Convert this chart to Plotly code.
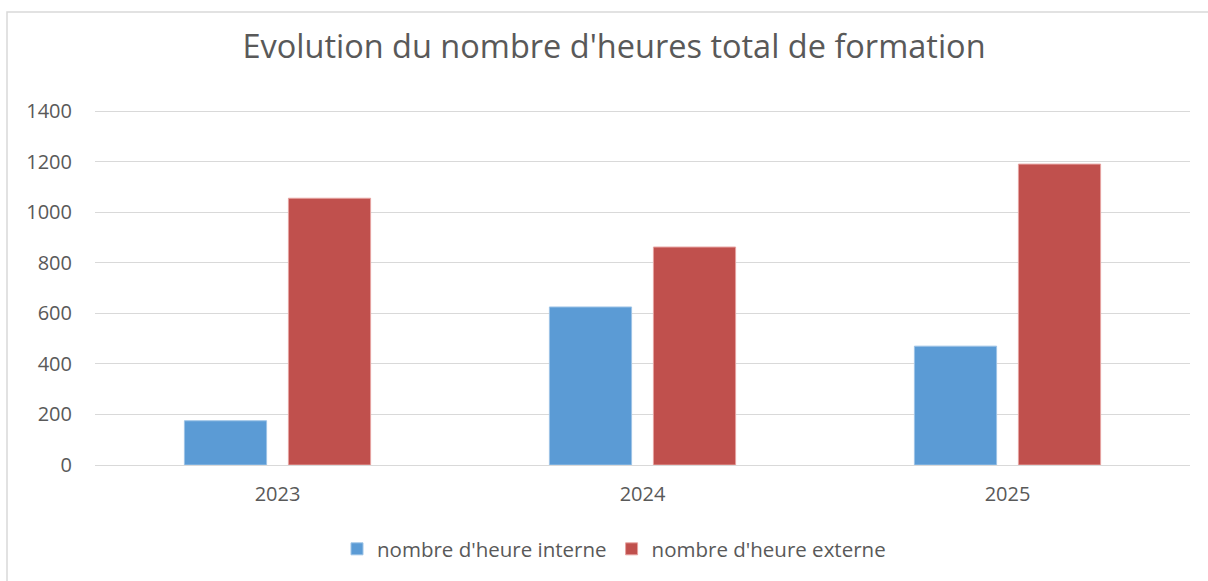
import plotly.graph_objects as go

categories = ["2023", "2024", "2025"]
interne = [175, 625, 470]
externe = [1055, 862, 1190]
series_names = ["nombre d'heure interne", "nombre d'heure externe"]
title_text = "Evolution du nombre d'heures total de formation"
y_ticks = [0, 200, 400, 600, 800, 1000, 1200, 1400]

W, H = 1208, 581
L, R, T, B = 95, 18, 110, 116
pw, ph = W - L - R, H - T - B

def px_x(p):
    return (p - L) / pw

def px_y(p):
    return (H - B - p) / ph

text_color = "#595959"
grid_color = "#D9D9D9"
font_family = "Open Sans, Noto Sans, sans-serif"

fig = go.Figure()
fig.add_trace(go.Bar(x=categories, y=interne, name=series_names[0],
                     marker=dict(color="#5B9BD5", line=dict(color="#9DC3E6", width=1))))
fig.add_trace(go.Bar(x=categories, y=externe, name=series_names[1],
                     marker=dict(color="#C0504D", line=dict(color="#E6A3A1", width=1))))

fig.update_layout(
    width=W, height=H,
    margin=dict(l=L, r=R, t=T, b=B, pad=0),
    paper_bgcolor="white", plot_bgcolor="white",
    barmode="group", bargap=0.43, bargroupgap=0.21,
    font=dict(family=font_family, color=text_color, size=20),
    title=dict(text=title_text, x=614 / W, xanchor="center",
               y=1 - 47 / H, yanchor="middle",
               font=dict(family=font_family, size=32.5, color=text_color)),
    showlegend=True,
    legend=dict(orientation="h", x=px_x(614), xanchor="center",
                y=px_y(549), yanchor="middle",
                font=dict(size=20.5, color=text_color),
                itemwidth=30, tracegroupgap=0, bgcolor="rgba(0,0,0,0)",
                traceorder="normal"),
    xaxis=dict(showgrid=False, showline=False, ticks="", zeroline=False,
               ticklabelstandoff=15,
               tickfont=dict(size=20, color=text_color)),
    yaxis=dict(range=[0, 1404], tickvals=y_ticks, showgrid=True,
               gridcolor=grid_color, gridwidth=1, zeroline=True,
               zerolinecolor=grid_color, zerolinewidth=1, showline=False,
               ticks="", ticklabelstandoff=22,
               tickfont=dict(size=20, color=text_color)),
    shapes=[dict(type="rect", xref="paper", yref="paper",
                 x0=px_x(7), x1=px_x(1230), y0=px_y(600), y1=px_y(12),
                 line=dict(color=grid_color, width=1.5), layer="below")],
)

fig.write_html("out.html", config={"displayModeBar": False},
               post_script="document.body.style.margin='0';")
